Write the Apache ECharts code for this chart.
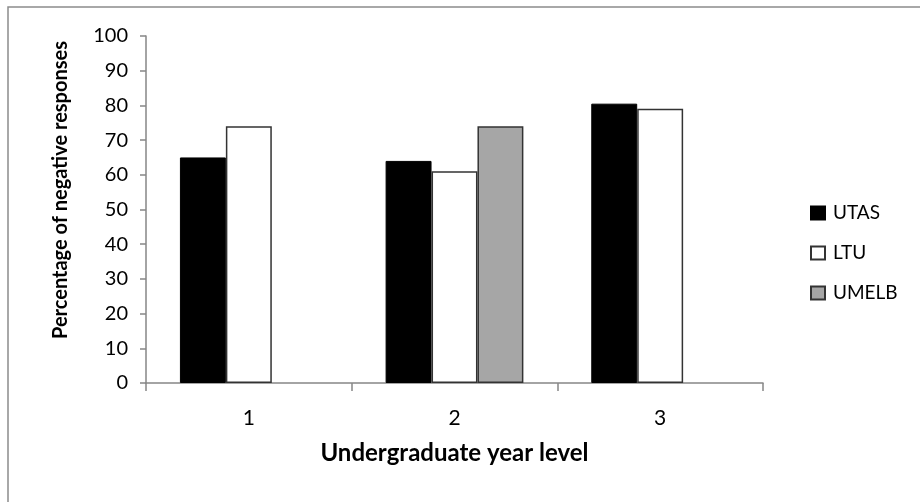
<!DOCTYPE html>
<html>
<head>
<meta charset="utf-8">
<script src="https://cdn.jsdelivr.net/npm/echarts@6/dist/echarts.min.js"></script>
<style>
html,body{margin:0;padding:0;background:#fff;}
#chart{width:920px;height:502px;}
</style>
</head>
<body>
<div id="chart"></div>
<script>
const categories = ['1', '2', '3'];
const utas = [65, 64, 80.5];
const ltu = [74, 61, 79];
const umelb = [null, 74, null];
const yTicks = [0, 10, 20, 30, 40, 50, 60, 70, 80, 90, 100];

const FONT = 'Lato, "Open Sans", sans-serif';
const chart = echarts.init(document.getElementById('chart'), null, {renderer: 'canvas'});
chart.setOption({
  animation: false,
  backgroundColor: '#ffffff',
  graphic: [
    {type: 'rect', shape: {x: 8, y: 7, width: 1000, height: 600}, style: {fill: 'none', stroke: '#8c8c8c', lineWidth: 1.5}, silent: true},
    {type: 'text', x: 61, y: 190, rotation: Math.PI / 2,
     style: {text: 'Percentage of negative responses', font: 'bold 20px ' + FONT, fill: '#000', align: 'center', verticalAlign: 'middle'}}
  ],
  grid: {left: 146, right: 157, top: 36, bottom: 119, containLabel: false},
  legend: {
    orient: 'vertical', left: 805, top: 197, itemGap: 18, itemWidth: 14, itemHeight: 13,
    icon: 'rect',
    textStyle: {fontFamily: FONT, fontSize: 19, lineHeight: 22, color: '#000', padding: [0, 0, 0, 3]},
    data: ['UTAS', 'LTU', 'UMELB']
  },
  xAxis: {
    type: 'category', data: categories,
    name: 'Undergraduate year level', nameLocation: 'middle', nameGap: 58,
    nameTextStyle: {fontFamily: FONT, fontSize: 24, fontWeight: 'bold', color: '#000'},
    axisLine: {lineStyle: {color: '#868686', width: 1.5}},
    axisTick: {show: true, alignWithLabel: false, length: 8, lineStyle: {color: '#868686', width: 1.5}},
    axisLabel: {fontFamily: FONT, fontSize: 21, color: '#000', margin: 25}
  },
  yAxis: {
    type: 'value', min: yTicks[0], max: yTicks[yTicks.length - 1], interval: 10,
    axisLine: {show: true, lineStyle: {color: '#868686', width: 1.5}},
    axisTick: {show: true, length: 6, lineStyle: {color: '#868686', width: 1.5}},
    splitLine: {show: false},
    axisLabel: {fontFamily: FONT, fontSize: 20, color: '#000', margin: 18}
  },
  series: [
    {name: 'UTAS', type: 'bar', data: utas, barGap: '0%', barCategoryGap: '33%',
     itemStyle: {color: '#000000', borderColor: '#000000', borderWidth: 1}},
    {name: 'LTU', type: 'bar', data: ltu,
     itemStyle: {color: '#ffffff', borderColor: '#333333', borderWidth: 1.5}},
    {name: 'UMELB', type: 'bar', data: umelb,
     itemStyle: {color: '#a6a6a6', borderColor: '#333333', borderWidth: 1.5}}
  ]
});
</script>
</body>
</html>
